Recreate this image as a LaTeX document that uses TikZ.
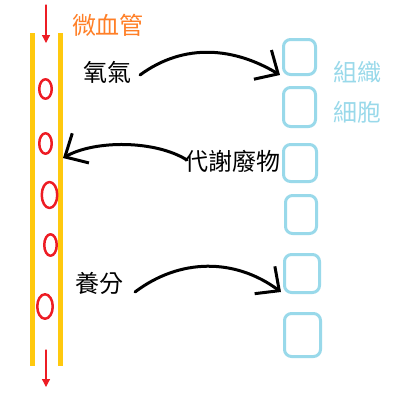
\documentclass[tikz,border=0pt]{standalone}
\usepackage{fontspec}
\usepackage{tikz}
\usetikzlibrary{arrows.meta, shapes.geometric}
\newfontfamily\cjk{Noto Sans CJK TC}
\definecolor{vessel}{HTML}{FFC90E}
\definecolor{blood}{HTML}{ED1C24}
\definecolor{cellblue}{HTML}{99D9EA}
\definecolor{tagorange}{HTML}{FF7F27}

\begin{document}
\begin{tikzpicture}[
            x = 1pt, y = -1pt, % one unit per pixel, y runs down
            > = {Straight Barb[length=18pt, width=34pt]}, % open arrow head
            line cap = round,
            line join = round
        ]

        \tikzstyle{tag}=[
            font = \cjk\fontsize{24}{26}\selectfont,
            inner sep = 0pt
        ]
        \tikzstyle{cell}=[
            draw = cellblue,
            line width = 3pt,
            rounded corners = 7pt,
            inner sep = 0pt
        ]
        \tikzstyle{rbc}=[
            ellipse,
            draw = blood,
            line width = 2.5pt,
            inner sep = 0pt
        ]
        \tikzstyle{flow}=[draw = blood, line width = 1.2pt, -{Triangle[length=8pt, width=8pt]}]
        \tikzstyle{carry}=[draw = black, line width = 3pt, ->]

        \useasboundingbox (0,0) rectangle (400,400);

        % capillary walls
        \draw[vessel, line width = 5pt, line cap = butt] (32.5,33) -- (32.5,366);
        \draw[vessel, line width = 5pt, line cap = butt] (60.5,33) -- (60.5,366);

        % red blood cells
        \node[rbc, minimum width = 12.5pt, minimum height = 19.5pt] (rbc1) at (45.5,89) {};
        \node[rbc, minimum width = 12.5pt, minimum height = 20.5pt] (rbc2) at (45.5,143.5) {};
        \node[rbc, minimum width = 15.5pt, minimum height = 26pt] (rbc3) at (49.5,195) {};
        \node[rbc, minimum width = 12.5pt, minimum height = 21.5pt] (rbc4) at (50.5,245) {};
        \node[rbc, minimum width = 15.5pt, minimum height = 24.5pt] (rbc5) at (45,306.5) {};

        % tissue cells
        \node[cell, minimum width = 32pt, minimum height = 35pt] (cell1) at (299.5,57) {};
        \node[cell, minimum width = 32pt, minimum height = 39pt] (cell2) at (299.5,107) {};
        \node[cell, minimum width = 33pt, minimum height = 37pt] (cell3) at (300,163) {};
        \node[cell, minimum width = 31pt, minimum height = 38pt] (cell4) at (301,214.5) {};
        \node[cell, minimum width = 35pt, minimum height = 38pt] (cell5) at (302,273.5) {};
        \node[cell, minimum width = 36pt, minimum height = 43pt] (cell6) at (302.5,335) {};

        % labels
        \node[tag, text = tagorange] (capillary) at (108,25) {微血管};
        \node[tag] (oxygen) at (108,72.5) {氧氣};
        \node[tag] (waste) at (232.5,161) {代謝廢物};
        \node[tag] (nutrient) at (99.5,283.5) {養分};
        \node[tag, text = cellblue] (tissue) at (357.5,72) {組織};
        \node[tag, text = cellblue] (cells) at (357.5,112) {細胞};

        % ends of the connectors
        \coordinate (inflow0) at (46,5);
        \coordinate (inflow1) at (46,43);
        \coordinate (outflow0) at (46,350);
        \coordinate (outflow1) at (46,387);
        \coordinate (o2from) at (140,75);
        \coordinate (o2to) at (280,75);
        \coordinate (wastefrom) at (187,160);
        \coordinate (wasteto) at (63,158);
        \coordinate (foodfrom) at (135,292);
        \coordinate (foodto) at (281,292);

        % blood flow
        \draw[flow] (inflow0) -- (inflow1);
        \draw[flow] (outflow0) -- (outflow1);

        % exchange
        \draw[carry] (o2from) .. controls (185,42) and (235,48) .. (o2to);
        \draw[carry] (wastefrom) .. controls (155,140) and (95,140) .. (wasteto);
        \draw[carry] (foodfrom) .. controls (180,258) and (235,258) .. (foodto);

  \end{tikzpicture}
\end{document}
